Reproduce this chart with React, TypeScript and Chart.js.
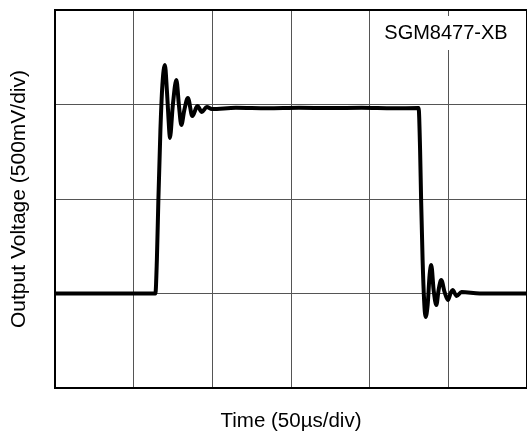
import React, { useEffect, useRef } from "react";
import { Chart, registerables } from "chart.js";

Chart.register(...registerables);

// Time in divisions (50 µs/div) and output voltage in divisions (500 mV/div)
const timeDiv = [
  0, 0.4, 0.8, 1.2, 1.276, 1.295, 1.314, 1.34, 1.365, 1.397, 1.422, 1.454, 1.46,
  1.498, 1.543, 1.575, 1.606, 1.644, 1.689, 1.746, 1.81, 1.867, 1.93, 1.994,
  2.3, 2.7, 3.1, 3.5, 3.9, 4.3, 4.622, 4.641, 4.654, 4.673, 4.692, 4.711, 4.737,
  4.762, 4.783, 4.813, 4.848, 4.876, 4.91, 4.952, 4.995, 5.029, 5.054, 5.105,
  5.168, 5.4, 5.7, 6,
];
const voltageDiv = [
  1.0, 1.0, 1.0, 1.0, 1.0, 1.354, 1.989, 2.73, 3.206, 3.418, 3.153, 2.7, 2.646,
  2.995, 3.259, 2.995, 2.783, 2.942, 3.069, 2.878, 2.984, 2.921, 2.974, 2.952,
  2.965, 2.96, 2.965, 2.962, 2.965, 2.96, 2.963, 2.519, 1.989, 1.354, 0.931,
  0.751, 0.878, 1.196, 1.302, 1.037, 0.878, 1.037, 1.143, 1.016, 0.931, 1.005,
  1.037, 0.974, 1.016, 1.0, 1.0, 1.0,
];
const xDivisions = [0, 6];
const yDivisions = [0, 4];
const xTitle = "Time (50µs/div)";
const yTitle = "Output Voltage (500mV/div)";
const deviceLabel = "SGM8477-XB";

const FONT = "'Liberation Sans', Arial, Helvetica, sans-serif";

const framePlugin = {
  id: "frameAndLabel",
  beforeDatasetsDraw(chart: any) {
    const { ctx, chartArea } = chart;
    ctx.save();
    // label box
    ctx.fillStyle = "#fff";
    ctx.fillRect(chartArea.right - 152, chartArea.top + 6, 152, 34);
    ctx.fillStyle = "#000";
    ctx.font = `20px ${FONT}`;
    ctx.textAlign = "center";
    ctx.textBaseline = "middle";
    ctx.fillText(deviceLabel, chartArea.right - 81, chartArea.top + 23);
    // frame
    ctx.strokeStyle = "#000";
    ctx.lineWidth = 2;
    ctx.strokeRect(
      chartArea.left,
      chartArea.top,
      chartArea.right - chartArea.left,
      chartArea.bottom - chartArea.top
    );
    ctx.restore();
  },
};

export default function App() {
  const ref = useRef<HTMLCanvasElement | null>(null);
  useEffect(() => {
    if (!ref.current) return;
    Chart.defaults.font.family = FONT;
    const chart = new Chart(ref.current, {
      type: "line",
      data: {
        datasets: [
          {
            data: timeDiv.map((t, i) => ({ x: t, y: voltageDiv[i] })),
            borderColor: "#000",
            borderWidth: 4,
            pointRadius: 0,
            cubicInterpolationMode: "monotone",
            fill: false,
          },
        ],
      },
      options: {
        animation: false,
        responsive: false,
        devicePixelRatio: 1,
        layout: { padding: { top: 10, right: -1, left: 0, bottom: 0 } },
        plugins: { legend: { display: false }, tooltip: { enabled: false } },
        scales: {
          x: {
            type: "linear",
            min: xDivisions[0],
            max: xDivisions[1],
            ticks: { display: false, stepSize: 1 },
            grid: { color: "#555", lineWidth: 1, drawTicks: false },
            border: { display: false },
            title: {
              display: true,
              text: xTitle,
              color: "#000",
              font: { size: 20.5 },
              padding: { top: 0, bottom: 1 },
            },
            afterFit: (s: any) => {
              s.height = 47;
            },
          },
          y: {
            type: "linear",
            min: yDivisions[0],
            max: yDivisions[1],
            ticks: { display: false, stepSize: 1 },
            grid: { color: "#555", lineWidth: 1, drawTicks: false },
            border: { display: false },
            title: {
              display: true,
              text: yTitle,
              color: "#000",
              font: { size: 21 },
              padding: { top: 7, bottom: 0 },
            },
            afterFit: (s: any) => {
              s.width = 55;
            },
          },
        },
      },
      plugins: [framePlugin],
    } as any);
    return () => chart.destroy();
  }, []);
  return (
    <div style={{ position: "fixed", left: 0, top: 0, width: 527, height: 435, background: "#fff" }}>
      <canvas ref={ref} width={527} height={435} />
    </div>
  );
}
